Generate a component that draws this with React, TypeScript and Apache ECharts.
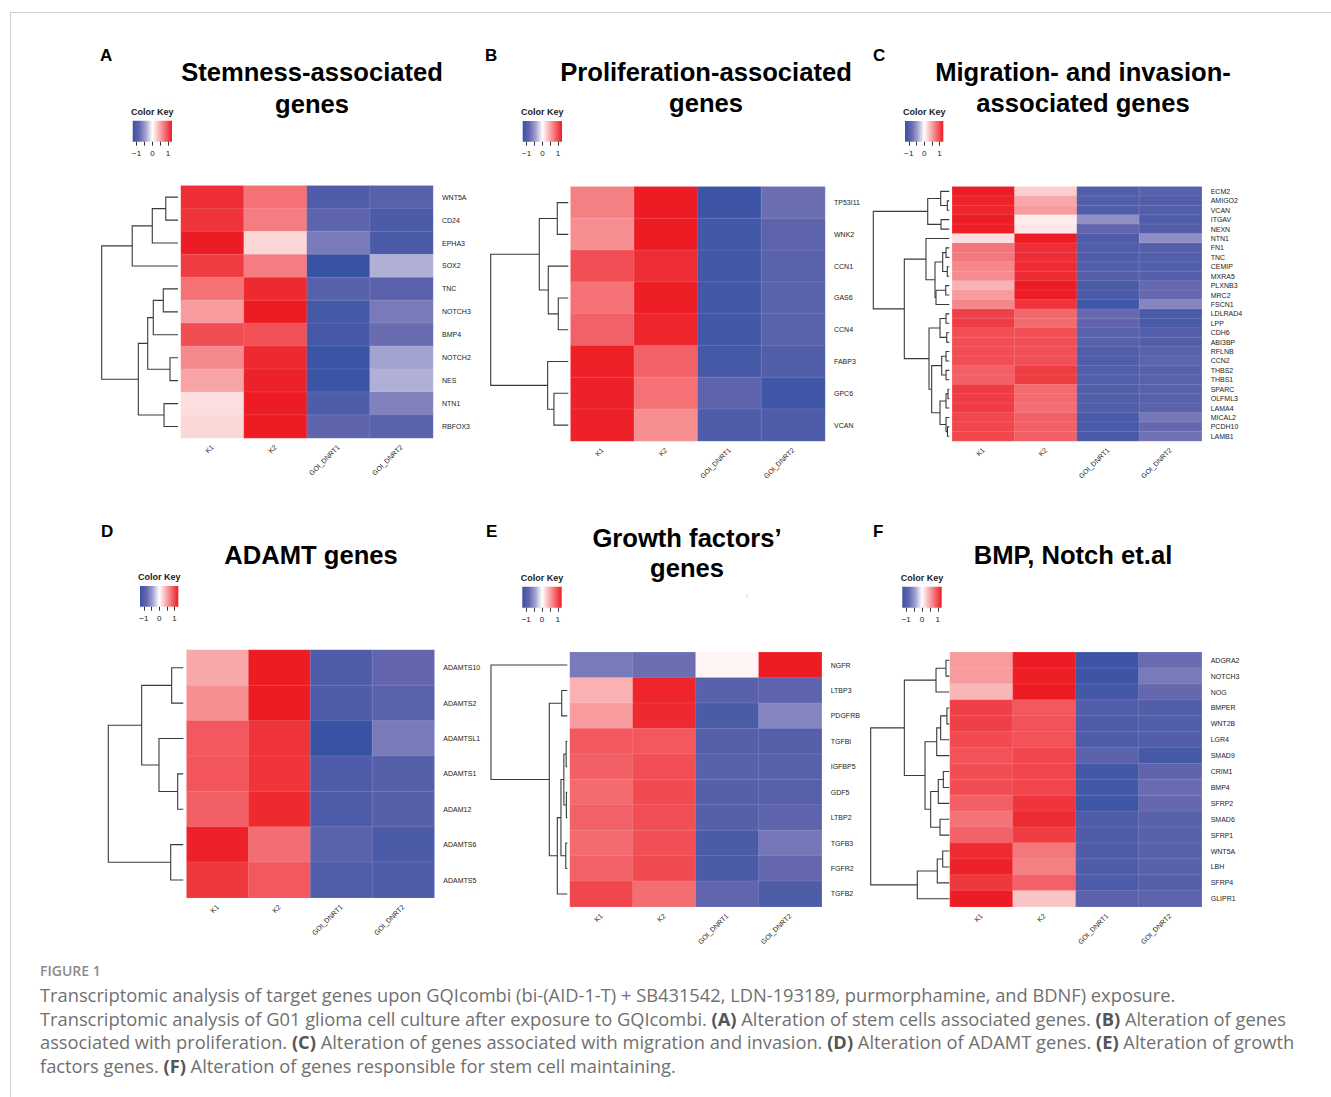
import React, { useEffect, useRef } from 'react';
import * as echarts from 'echarts';

// ---------------- DATA ----------------
const samples = ['K1', 'K2', 'GOI_DNRT1', 'GOI_DNRT2'];

const genesA = ['WNT5A', 'CD24', 'EPHA3', 'SOX2', 'TNC', 'NOTCH3', 'BMP4', 'NOTCH2', 'NES', 'NTN1', 'RBFOX3'];
const valuesA = [
  [1.15, 0.78, -1.05, -0.95],
  [1.12, 0.72, -0.9, -1.08],
  [1.25, 0.22, -0.7, -1.08],
  [1.08, 0.72, -1.25, -0.36],
  [0.78, 1.18, -0.95, -0.92],
  [0.55, 1.25, -1.12, -0.7],
  [0.98, 0.96, -1.12, -0.8],
  [0.65, 1.18, -1.22, -0.42],
  [0.5, 1.22, -1.22, -0.36],
  [0.18, 1.25, -1.05, -0.65],
  [0.22, 1.25, -0.88, -0.92],
];
// hclust-style merges: negative = leaf (1-based), positive = earlier merge (1-based), then height
const mergesA = [
  [-1, -2, 1.6], [1, -3, 3.37], [2, -4, 6.0], [-5, -6, 1.93], [4, -7, 3.24],
  [-8, -9, 1.05], [5, 6, 3.97], [-10, -11, 1.83], [7, 8, 5.2], [3, 9, 10],
];

const genesB = ['TP53I11', 'WNK2', 'CCN1', 'GAS6', 'CCN4', 'FABP3', 'GPC6', 'VCAN'];
const valuesB = [
  [0.7, 1.25, -1.2, -0.78],
  [0.62, 1.25, -1.15, -0.9],
  [0.97, 1.15, -1.15, -0.92],
  [0.78, 1.24, -1.15, -0.93],
  [0.87, 1.2, -1.15, -0.93],
  [1.23, 0.87, -1.12, -1.0],
  [1.22, 0.78, -0.9, -1.18],
  [1.22, 0.62, -1.05, -1.05],
];
const mergesB = [
  [-1, -2, 1.42], [-4, -5, 1.29], [-3, 2, 2.58], [1, 3, 3.74], [-7, -8, 1.85], [-6, 5, 2.66], [4, 6, 10],
];

const genesC = ['ECM2', 'AMIGO2', 'VCAN', 'ITGAV', 'NEXN', 'NTN1', 'FN1', 'TNC', 'CEMIP', 'MXRA5', 'PLXNB3', 'MRC2', 'FSCN1',
  'LDLRAD4', 'LPP', 'CDH6', 'ABI3BP', 'RFLNB', 'CCN2', 'THBS2', 'THBS1', 'SPARC', 'OLFML3', 'LAMA4', 'MICAL2', 'PCDH10', 'LAMB1'];
const valuesC = [
  [1.25, 0.27, -1.0, -0.95],
  [1.22, 0.48, -1.0, -1.0],
  [1.2, 0.55, -1.0, -1.0],
  [1.25, 0.1, -0.55, -1.02],
  [1.24, 0.13, -0.85, -1.0],
  [0.18, 1.25, -1.05, -0.55],
  [0.76, 1.15, -1.02, -0.98],
  [0.74, 1.15, -1.02, -1.0],
  [0.66, 1.17, -1.0, -1.0],
  [0.64, 1.17, -0.98, -0.98],
  [0.42, 1.25, -1.08, -0.82],
  [0.55, 1.25, -1.08, -0.82],
  [0.66, 1.12, -1.18, -0.62],
  [1.05, 0.84, -0.82, -1.1],
  [1.08, 0.82, -0.88, -1.1],
  [0.98, 0.97, -0.95, -1.0],
  [0.98, 0.97, -0.95, -1.0],
  [0.98, 0.97, -1.02, -0.95],
  [0.98, 0.97, -1.02, -0.9],
  [0.88, 1.08, -1.0, -0.95],
  [0.88, 1.08, -1.0, -0.95],
  [1.08, 0.82, -1.0, -0.95],
  [1.08, 0.82, -1.0, -0.95],
  [1.08, 0.8, -1.0, -0.92],
  [1.02, 0.88, -1.1, -0.72],
  [1.02, 0.88, -1.1, -0.82],
  [1.02, 0.88, -1.1, -0.75],
];
const mergesC = [
  [-2, -3, 0.26], [-1, 1, 1.13], [-4, -5, 1.09], [2, 3, 2.84], [-7, -8, 0.43],
  [-9, -10, 0.26], [5, 6, 0.87], [-11, -12, 0.47], [8, -13, 1.75], [7, 9, 1.88],
  [-6, 10, 3.07], [-14, -15, 0.43], [-16, -17, 0.34], [12, 13, 1.22], [-18, -19, 0.43],
  [-20, -21, 0.43], [15, 16, 1.0], [-22, -23, 0.17], [18, -24, 0.43], [-26, -27, 0.24],
  [-25, 20, 0.43], [19, 21, 1.22], [17, 22, 2.32], [14, 23, 2.67], [11, 24, 5.92], [4, 25, 10],
];

const genesD = ['ADAMTS10', 'ADAMTS2', 'ADAMTSL1', 'ADAMTS1', 'ADAM12', 'ADAMTS6', 'ADAMTS5'];
const valuesD = [
  [0.48, 1.25, -1.05, -0.85],
  [0.62, 1.25, -1.05, -0.93],
  [0.92, 1.12, -1.25, -0.7],
  [0.93, 1.12, -1.05, -0.98],
  [0.88, 1.18, -1.05, -0.98],
  [1.22, 0.8, -0.93, -1.07],
  [1.1, 0.92, -1.03, -1.05],
];
const mergesD = [
  [-1, -2, 1.55], [-4, -5, 0.75], [-3, 2, 3.24], [1, 3, 5.55], [-6, -7, 1.68], [4, 5, 10],
];

const genesE = ['NGFR', 'LTBP3', 'PDGFRB', 'TGFBI', 'IGFBP5', 'GDF5', 'LTBP2', 'TGFB3', 'FGFR2', 'TGFB2'];
const valuesE = [
  [-0.7, -0.78, 0.06, 1.25],
  [0.43, 1.2, -0.95, -0.9],
  [0.55, 1.18, -1.08, -0.62],
  [0.92, 0.92, -0.98, -0.98],
  [0.88, 0.97, -0.95, -0.95],
  [0.82, 1.0, -0.98, -0.97],
  [0.87, 0.97, -0.98, -0.9],
  [0.82, 0.97, -1.08, -0.72],
  [0.87, 0.99, -1.08, -0.82],
  [1.02, 0.8, -0.86, -1.04],
];
const mergesE = [
  [-2, -3, 0.73], [-4, -5, 0.15], [-6, -7, 0.12], [2, 3, 0.45], [-8, -9, 0.2],
  [4, 5, 0.83], [6, -10, 1.31], [1, 7, 2.36], [-1, 8, 10],
];

const genesF = ['ADGRA2', 'NOTCH3', 'NOG', 'BMPER', 'WNT2B', 'LGR4', 'SMAD9', 'CRIM1', 'BMP4', 'SFRP2', 'SMAD6', 'SFRP1',
  'WNT5A', 'LBH', 'SFRP4', 'GLIPR1'];
const valuesF = [
  [0.55, 1.25, -1.2, -0.8],
  [0.55, 1.24, -1.2, -0.7],
  [0.4, 1.25, -1.15, -0.82],
  [1.05, 0.92, -1.0, -1.0],
  [1.05, 0.95, -1.05, -1.0],
  [1.0, 0.95, -1.05, -1.0],
  [0.95, 1.02, -0.92, -1.12],
  [0.98, 1.02, -1.15, -0.87],
  [0.98, 1.02, -1.15, -0.8],
  [0.88, 1.12, -1.18, -0.82],
  [0.77, 1.17, -1.05, -0.95],
  [0.87, 1.07, -1.05, -0.95],
  [1.17, 0.75, -1.05, -0.95],
  [1.22, 0.7, -1.05, -0.95],
  [1.1, 0.87, -1.05, -0.98],
  [1.25, 0.33, -0.92, -0.9],
];
const mergesF = [
  [-1, -2, 0.42], [1, -3, 1.69], [-4, -5, 0.3], [3, -6, 1.1], [4, -7, 1.6],
  [-8, -9, 0.76], [6, -10, 1.4], [-11, -12, 1.18], [7, 8, 2.37], [5, 9, 3.09],
  [2, 10, 5.72], [-13, -14, 0.84], [12, -15, 1.53], [13, -16, 4.07], [11, 14, 10],
];

const keyMin = -1.25;
const keyMax = 1.25;
const keyTicks = [-1, -0.5, 0, 0.5, 1];
const keyTickLabels = [-1, 0, 1];
const keyColors = ['#3953A4', '#6466AE', '#A3A3D1', '#FFFFFF', '#F9B3B6', '#F3686D', '#ED1C24'];

const captionHead = 'FIGURE 1';
const captionLines = [
  'Transcriptomic analysis of target genes upon GQIcombi (bi-(AID-1-T) + SB431542, LDN-193189, purmorphamine, and BDNF) exposure.',
  'Transcriptomic analysis of G01 glioma cell culture after exposure to GQIcombi. {b|(A)} Alteration of stem cells associated genes. {b|(B)} Alteration of genes',
  'associated with proliferation. {b|(C)} Alteration of genes associated with migration and invasion. {b|(D)} Alteration of ADAMT genes. {b|(E)} Alteration of growth',
  'factors genes. {b|(F)} Alteration of genes responsible for stem cell maintaining.',
];

// ---------------- LAYOUT ----------------
const panels = [
  { letter: 'A', title: ['Stemness-associated', 'genes'], genes: genesA, values: valuesA, merges: mergesA,
    heat: [181, 185.7, 433, 438], dendro: [101.7, 178], key: [132.7, 120.7, 172, 141.7],
    letterXY: [100, 55], titleX: 312, titleY: [72, 104] },
  { letter: 'B', title: ['Proliferation-associated', 'genes'], genes: genesB, values: valuesB, merges: mergesB,
    heat: [570.7, 186.7, 825, 441], dendro: [490.7, 568.3], key: [522.7, 121, 562, 141.7],
    letterXY: [485, 55], titleX: 706, titleY: [72, 103] },
  { letter: 'C', title: ['Migration- and invasion-', 'associated genes'], genes: genesC, values: valuesC, merges: mergesC,
    heat: [952.3, 186.7, 1201.7, 441], dendro: [873.3, 949.3], key: [905, 121, 943.3, 141.7],
    letterXY: [873, 55], titleX: 1083, titleY: [72, 103] },
  { letter: 'D', title: ['ADAMT genes'], genes: genesD, values: valuesD, merges: mergesD,
    heat: [186.7, 650, 434.3, 897.7], dendro: [108.3, 183.3], key: [140, 586, 178.3, 606.7],
    letterXY: [101, 531], titleX: 311, titleY: [555] },
  { letter: 'E', title: ['Growth factors\u2019', 'genes'], genes: genesE, values: valuesE, merges: mergesE,
    heat: [570, 652.3, 821.7, 906.7], dendro: [491, 567.3], key: [522.3, 586.7, 561.7, 607.7],
    letterXY: [486, 531], titleX: 687, titleY: [538, 568] },
  { letter: 'F', title: ['BMP, Notch et.al'], genes: genesF, values: valuesF, merges: mergesF,
    heat: [950, 652.3, 1201.7, 906.7], dendro: [870.7, 949.3], key: [902.3, 586.7, 941.7, 607.7],
    letterXY: [873, 531], titleX: 1073, titleY: [555] },
];

const SANS = '"Liberation Sans", Arial, Helvetica, sans-serif';
const CAP = '"Open Sans", "Noto Sans", sans-serif';
const CAP_SIZE = 18.3;

function dendroItems(merges: number[][]) {
  const pos: number[] = [];
  const hs: number[] = [];
  const items: number[][] = [];
  merges.forEach(([a, b, h]) => {
    const pa = a < 0 ? -a - 0.5 : pos[a - 1];
    const pb = b < 0 ? -b - 0.5 : pos[b - 1];
    const ha = a < 0 ? 0 : hs[a - 1];
    const hb = b < 0 ? 0 : hs[b - 1];
    items.push([h, pa, pb, ha, hb]);
    pos.push((pa + pb) / 2);
    hs.push(h);
  });
  return items;
}

function buildOption() {
  const grid: any[] = [];
  const xAxis: any[] = [];
  const yAxis: any[] = [];
  const heatSeries: any[] = [];
  const dendSeries: any[] = [];
  const graphic: any[] = [];

  // frame lines
  graphic.push({ type: 'line', shape: { x1: 10, y1: 12.5, x2: 1331, y2: 12.5 }, style: { stroke: '#cfcfcf', lineWidth: 1 } });
  graphic.push({ type: 'line', shape: { x1: 10.5, y1: 12, x2: 10.5, y2: 1097 }, style: { stroke: '#cfcfcf', lineWidth: 1 } });

  panels.forEach((p) => {
    const [hx0, hy0, hx1, hy1] = p.heat;
    const n = p.genes.length;
    // heat grid
    const gHeat = grid.length;
    grid.push({ left: hx0, top: hy0, width: hx1 - hx0, height: hy1 - hy0, containLabel: false });
    xAxis.push({
      type: 'category', gridIndex: gHeat, data: samples, position: 'bottom',
      axisLine: { show: false }, axisTick: { show: false }, splitLine: { show: false },
      axisLabel: { rotate: 45, fontSize: 7, margin: 8, color: '#222', fontFamily: SANS, interval: 0 },
    });
    yAxis.push({
      type: 'category', gridIndex: gHeat, data: p.genes, inverse: true, position: 'right',
      axisLine: { show: false }, axisTick: { show: false }, splitLine: { show: false },
      axisLabel: { fontSize: 7, margin: 9, color: '#222', fontFamily: SANS, interval: 0 },
    });
    const data: number[][] = [];
    p.values.forEach((row, r) => row.forEach((v, c) => data.push([c, r, v])));
    heatSeries.push({
      type: 'heatmap', xAxisIndex: gHeat, yAxisIndex: gHeat, data,
      itemStyle: { borderColor: 'rgba(255,255,255,0.22)', borderWidth: 0.5 },
      emphasis: { disabled: true },
    });

    // dendrogram grid
    const gD = grid.length;
    grid.push({ left: p.dendro[0], top: hy0, width: p.dendro[1] - p.dendro[0], height: hy1 - hy0 });
    xAxis.push({ type: 'value', gridIndex: gD, min: 0, max: 10, inverse: true, show: false });
    yAxis.push({ type: 'value', gridIndex: gD, min: 0, max: n, inverse: true, show: false });
    dendSeries.push({
      type: 'custom', xAxisIndex: gD, yAxisIndex: gD, clip: false, silent: true,
      data: dendroItems(p.merges),
      encode: { x: [0, 3, 4], y: [1, 2] },
      renderItem: (params: any, api: any) => {
        const h = api.value(0), ya = api.value(1), yb = api.value(2), ha = api.value(3), hb = api.value(4);
        const pts = [api.coord([ha, ya]), api.coord([h, ya]), api.coord([h, yb]), api.coord([hb, yb])];
        return { type: 'polyline', shape: { points: pts }, style: { stroke: '#3a3a3a', lineWidth: 1.1, fill: null } };
      },
    });

    // color key grid (axis for ticks)
    const [kx0, ky0, kx1, ky1] = p.key;
    const gK = grid.length;
    grid.push({ left: kx0, top: ky0, width: kx1 - kx0, height: ky1 - ky0 });
    xAxis.push({
      type: 'value', gridIndex: gK, min: keyMin, max: keyMax, position: 'bottom',
      axisLine: { show: false }, splitLine: { show: false },
      axisTick: { show: true, customValues: keyTicks, length: 4, lineStyle: { color: '#333', width: 1 } },
      axisLabel: {
        customValues: keyTickLabels, fontSize: 8, margin: 8, color: '#222', fontFamily: SANS,
        formatter: (v: number) => (v < 0 ? '\u2212' + Math.abs(v) : String(v)),
      },
    });
    yAxis.push({ type: 'value', gridIndex: gK, min: 0, max: 1, show: false });

    graphic.push({
      type: 'rect', shape: { x: kx0, y: ky0, width: kx1 - kx0, height: ky1 - ky0 },
      style: {
        fill: new echarts.graphic.LinearGradient(0, 0, 1, 0,
          keyColors.map((c, k) => ({ offset: k / (keyColors.length - 1), color: c }))),
      },
    });
    graphic.push({
      type: 'text', x: (kx0 + kx1) / 2, y: ky0 - 9,
      style: { text: 'Color Key', font: 'bold 9px ' + SANS, fill: '#222', align: 'center', verticalAlign: 'middle', textAlign: 'center', textVerticalAlign: 'middle' },
    });

    // panel letter
    graphic.push({
      type: 'text', x: p.letterXY[0], y: p.letterXY[1],
      style: { text: p.letter, font: 'bold 17px ' + SANS, fill: '#000', align: 'left', verticalAlign: 'middle', textAlign: 'left', textVerticalAlign: 'middle' },
    });
    // titles
    p.title.forEach((t, k) => {
      graphic.push({
        type: 'text', x: p.titleX, y: p.titleY[k],
        style: { text: t, font: 'bold 25.6px ' + SANS, fill: '#000', align: 'center', verticalAlign: 'middle', textAlign: 'center', textVerticalAlign: 'middle' },
      });
    });
  });

  // small stray mark in panel E
  graphic.push({ type: 'text', x: 747, y: 595, style: { text: ';', font: '6px ' + SANS, fill: '#333', align: 'center', verticalAlign: 'middle' } });

  // caption
  graphic.push({
    type: 'text', x: 40, y: 970,
    style: { text: captionHead, fontSize: 14, fontWeight: 600, fontFamily: CAP, fill: '#8a8a8a', align: 'left', verticalAlign: 'middle', textAlign: 'left', textVerticalAlign: 'middle' },
  });
  const capY = [994, 1018, 1041.5, 1065];
  captionLines.forEach((line, k) => {
    graphic.push({
      type: 'text', x: 40, y: capY[k],
      style: {
        text: line, fontSize: CAP_SIZE, fontFamily: CAP, fill: '#707070',
        align: 'left', verticalAlign: 'middle', textAlign: 'left', textVerticalAlign: 'middle',
        rich: { b: { fontSize: CAP_SIZE, fontFamily: CAP, fontWeight: 'bold', fill: '#555' } },
      },
    });
  });

  return {
    animation: false,
    backgroundColor: '#ffffff',
    textStyle: { fontFamily: SANS },
    grid, xAxis, yAxis,
    visualMap: {
      type: 'continuous', show: false, min: keyMin, max: keyMax,
      seriesIndex: heatSeries.map((_, k) => k),
      inRange: { color: keyColors },
    },
    series: [...heatSeries, ...dendSeries],
    graphic,
  };
}

export default function App() {
  const ref = useRef<HTMLDivElement>(null);
  useEffect(() => {
    document.body.style.margin = '0';
    if (!ref.current) return;
    const chart = echarts.init(ref.current, undefined, { renderer: 'svg' });
    chart.setOption(buildOption() as any);
    return () => chart.dispose();
  }, []);
  return (
    <div style={{ position: 'absolute', left: 0, top: 0, width: 1331, height: 1097, background: '#fff' }}>
      <div ref={ref} style={{ width: 1331, height: 1097 }} />
    </div>
  );
}
